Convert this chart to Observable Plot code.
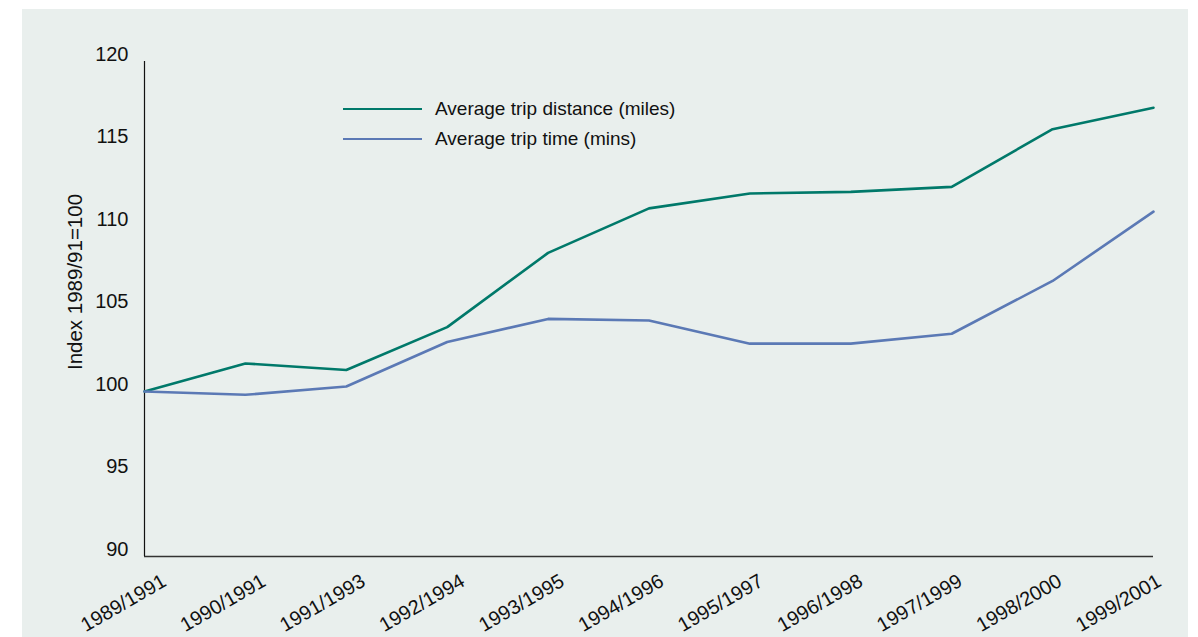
<!DOCTYPE html>
<html>
<head>
<meta charset="utf-8">
<script src="https://cdn.jsdelivr.net/npm/d3@7"></script>
<script src="https://cdn.jsdelivr.net/npm/@observablehq/plot@0.6"></script>
<style>
  html, body { margin: 0; padding: 0; background: #ffffff; }
  body { font-family: "Liberation Sans", Arial, Helvetica, sans-serif; }
  #panel { position: absolute; left: 22px; top: 9px; width: 1166px; height: 628px; background: #e9efed; overflow: hidden; }
  #chart, #xlabels { position: absolute; left: 0; top: 0; }
  #xlabels { pointer-events: none; }
  #legend { position: absolute; left: 321px; top: 85px; font-size: 19px; color: #111; }
  .row { display: flex; align-items: center; height: 30px; line-height: 30px; white-space: nowrap; }
  .sw { display: inline-block; width: 79px; height: 2.6px; margin-right: 13px; }
</style>
</head>
<body>
<div id="panel">
  <div id="chart"></div>
  <div id="xlabels"></div>
  <div id="legend"></div>
</div>
<script>
// ---- data ----
const periods = ["1989/1991", "1990/1991", "1991/1993", "1992/1994", "1993/1995", "1994/1996",
                 "1995/1997", "1996/1998", "1997/1999", "1998/2000", "1999/2001"];
const distance = [100.0, 101.7, 101.3, 103.9, 108.4, 111.1, 112.0, 112.1, 112.4, 115.9, 117.2];
const tripTime = [100.0, 99.8, 100.3, 103.0, 104.4, 104.3, 102.9, 102.9, 103.5, 106.7, 110.9];
const seriesNames = ["Average trip distance (miles)", "Average trip time (mins)"];
const seriesColors = ["#00796a", "#5b79b5"];
const yTicks = [90, 95, 100, 105, 110, 115, 120];
const yLabel = "Index 1989/91=100";

const seriesValues = [distance, tripTime];
const rows = seriesNames.flatMap((name, s) =>
  periods.map((p, i) => ({ period: p, value: seriesValues[s][i], series: name }))
);

const font = "'Liberation Sans', Arial, Helvetica, sans-serif";

const chart = Plot.plot({
  width: 1166,
  height: 628,
  marginLeft: 122,
  marginRight: 35,
  marginTop: 52,
  marginBottom: 81,
  style: { background: "transparent", fontFamily: font, fontSize: "19px", color: "#111", overflow: "visible" },
  x: { type: "point", domain: periods, padding: 0, round: false, axis: null },
  y: { domain: [90, 120], axis: null },
  color: { domain: seriesNames, range: seriesColors },
  marks: [
    Plot.axisY({ ticks: yTicks, tickSize: 0, tickPadding: 16, dy: -7, label: null, fontSize: 20, fill: "#111" }),
    Plot.text([yLabel], { frameAnchor: "left", rotate: -90, dx: -69, dy: -27, fontSize: 20.5, fill: "#111", textAnchor: "middle" }),
    Plot.ruleY([90], { stroke: "#333", strokeWidth: 1.3 }),
    Plot.ruleX([periods[0]], { stroke: "#111", strokeWidth: 1.2 }),
    Plot.line(rows, { x: "period", y: "value", z: "series", stroke: "series", strokeWidth: 2.6, strokeLinejoin: "miter" })
  ]
});
document.getElementById("chart").appendChild(chart);

// x tick labels: the original spaces its rotated labels slightly tighter than the points
const xLabels = Plot.plot({
  width: 1166,
  height: 628,
  marginLeft: 142,
  marginRight: 29,
  marginTop: 52,
  marginBottom: 81,
  style: { background: "transparent", fontFamily: font, fontSize: "20px", color: "#111", overflow: "visible" },
  x: { type: "point", domain: periods, padding: 0, round: false, axis: null },
  y: { domain: [90, 120], axis: null },
  marks: [
    Plot.text(periods, { x: d => d, frameAnchor: "bottom", rotate: -30, textAnchor: "end", lineAnchor: "middle", dy: 23, fontSize: 20, fill: "#111" })
  ]
});
document.getElementById("xlabels").appendChild(xLabels);

// legend
const legend = document.getElementById("legend");
seriesNames.forEach((name, i) => {
  const row = document.createElement("div");
  row.className = "row";
  const sw = document.createElement("span");
  sw.className = "sw";
  sw.style.background = seriesColors[i];
  const label = document.createElement("span");
  label.textContent = name;
  row.appendChild(sw);
  row.appendChild(label);
  legend.appendChild(row);
});
</script>
</body>
</html>
